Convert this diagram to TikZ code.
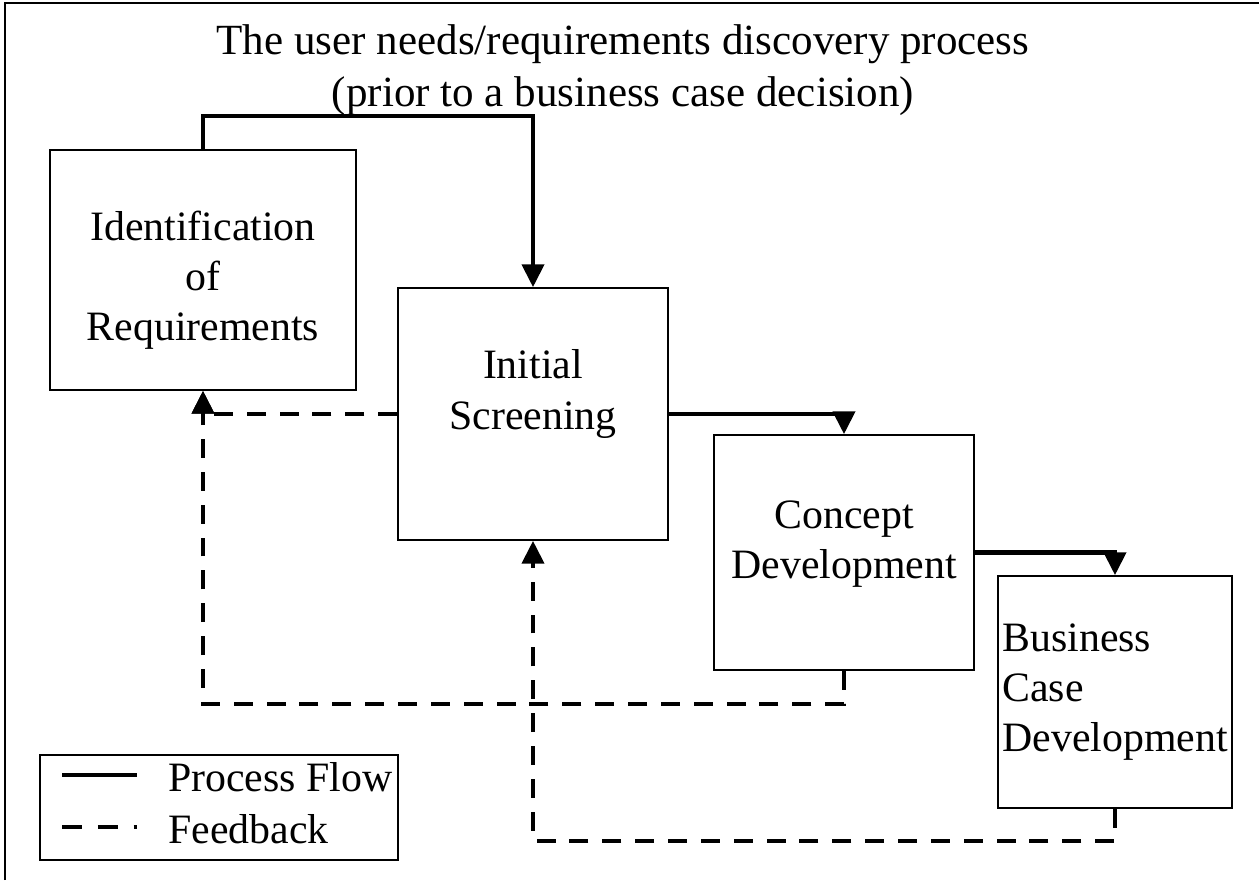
\documentclass[tikz,border=0pt]{standalone}
\usepackage{fontspec}
\setmainfont{Liberation Serif}
\usetikzlibrary{
    positioning,
    arrows.meta,
    calc
}

\tikzset{
    stepbox/.style={draw, line width=1pt, inner sep=2pt},
    steptext/.style={align=center, inner sep=0pt},
    flow/.style={line width=2.4pt, -{Triangle[length=13pt, width=12.5pt]}},
    feedback/.style={line width=2.4pt, dash pattern=on 10.8pt off 7.9pt,
        -{Triangle[length=13pt, width=12.5pt]}},
    legendline/.style={line width=2.4pt}
}

\begin{document}
\begin{tikzpicture}[x=0.02cm, y=-0.02cm,
        font=\fontsize{23.8}{28.5}\selectfont]
        \useasboundingbox (0,0) rectangle (1259,880);
        % 外枠
        \draw[line width=1pt] (5,880) -- (5,3) -- (1259,3);

        % タイトル
        \node[align=center, font=\fontsize{24.5}{30}\selectfont] (title) at (623,70)
            {The user needs/requirements discovery process\\(prior to a business case decision)};

        % 各段階
        \node[stepbox, minimum width=6.12cm, minimum height=4.8cm] (ident) at (203,270) {};
        \node[stepbox, minimum width=5.4cm, minimum height=5.04cm] (screen) at (533,414) {};
        \node[stepbox, minimum width=5.2cm, minimum height=4.7cm] (concept) at (844,552.5) {};
        \node[stepbox, minimum width=4.68cm, minimum height=4.64cm] (business) at (1115,692) {};

        \node[steptext] (identtext) at ($(ident.center)+(0,10)$) {Identification\\of\\Requirements};
        \node[steptext] (screentext) at ($(screen.center)+(0,-20)$) {Initial\\Screening};
        \node[steptext] (concepttext) at ($(concept.center)+(0,-8)$) {Concept\\Development};
        \node[steptext, align=left, anchor=west] (businesstext) at ($(business.west)+(5,0)$)
            {Business\\Case\\Development};

        % プロセスの流れ
        \draw[flow] (ident.north) -- ++(0,-33) -| (screen.north);
        \draw[flow] (screen.east) -| (concept.north);
        \draw[flow] (concept.east) -| (business.north);

        % フィードバック
        \draw[feedback] (screen.west) -| (ident.south);
        \draw[feedback] (concept.south) -- ++(0,33) -| (ident.south);
        \draw[feedback] (business.south) -- ++(0,32) -| (screen.south);

        % 凡例
        \node[draw, line width=0.8pt, minimum width=7.16cm, minimum height=2.1cm] (legend) at (219,807.5) {};
        \coordinate (pf1) at (62,775);
        \coordinate (pf2) at (137,775);
        \coordinate (fb1) at (62,827);
        \coordinate (fb2) at (137,827);
        \draw[legendline] (pf1) -- (pf2);
        \draw[legendline, dash pattern=on 11.3pt off 9.1pt] (fb1) -- (fb2);
        \node[anchor=west, inner sep=0pt] (pflabel) at (168,777) {Process Flow};
        \node[anchor=west, inner sep=0pt] (fblabel) at (168,829) {Feedback};
    \end{tikzpicture}
\end{document}
